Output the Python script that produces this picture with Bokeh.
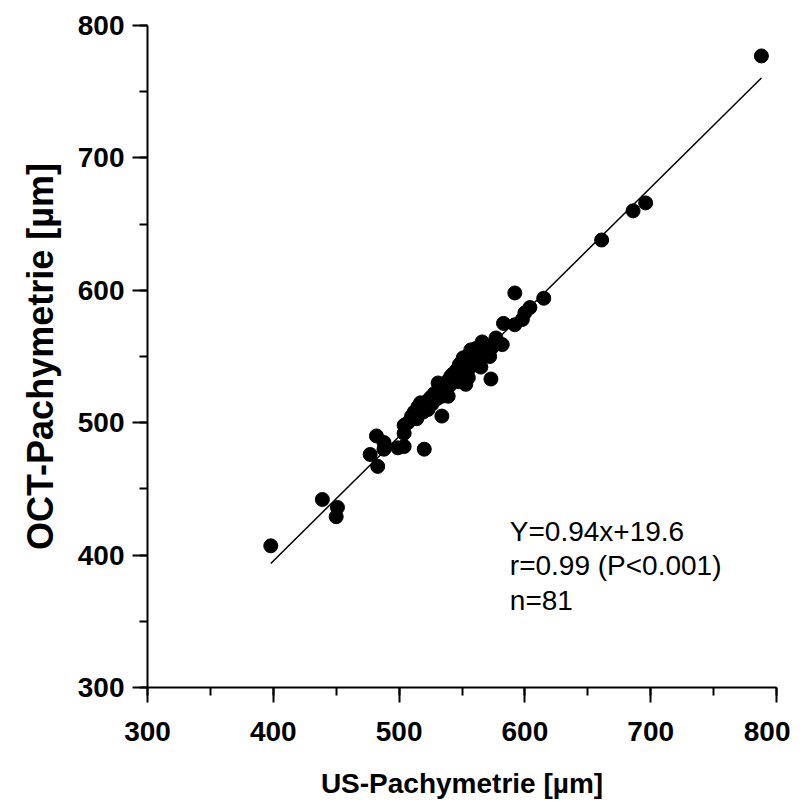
from bokeh.plotting import figure
from bokeh.models import Range1d, SingleIntervalTicker, Label
from bokeh.embed import file_html
from bokeh.resources import INLINE

# US-Pachymetrie (x) and OCT-Pachymetrie (y), in µm
us_pachy = [398, 439, 451, 450, 477, 482, 483, 488, 488, 499,
            504, 504, 520, 504, 509, 534, 515, 519, 525, 539,
            531, 541, 553, 550, 565, 555, 573, 557, 566, 577,
            582, 574, 572, 583, 592, 598, 600, 604, 615, 592,
            661, 686, 696, 788,
            507, 510, 512, 514, 517, 520, 522, 523, 526, 528,
            530, 532, 534, 535, 537, 538, 540, 542, 543, 545,
            546, 547, 548, 550, 551, 552, 554, 555, 556, 558,
            560, 561, 562, 563, 565, 567, 569]
oct_pachy = [407, 442, 436, 429, 476, 490, 467, 485, 480, 481,
             482, 492, 480, 498, 502, 505, 512, 508, 519, 520,
             530, 535, 529, 546, 542, 540, 533, 555, 561, 564,
             559, 557, 550, 575, 574, 578, 583, 587, 594, 598,
             638, 660, 666, 777,
             500, 505, 508, 503, 515, 512, 516, 510, 514, 522,
             518, 525, 520, 528, 524, 531, 528, 530, 537, 534,
             540, 531, 544, 538, 549, 543, 550, 534, 547, 552,
             548, 556, 544, 553, 557, 552, 558]

fit_slope = 0.94
fit_intercept = 19.6
stats_lines = ["Y=0.94x+19.6", "r=0.99 (P<0.001)", "n=81"]

FONT = "Liberation Sans"

p = figure(width=790, height=801, output_backend="svg", toolbar_location=None,
           x_range=Range1d(300, 800), y_range=Range1d(300, 800),
           min_border_left=147, min_border_right=14, min_border_top=25,
           min_border_bottom=113)
p.outline_line_color = None
p.xgrid.visible = False
p.ygrid.visible = False
p.background_fill_color = "white"
p.border_fill_color = "white"

# regression line
x0, x1 = min(us_pachy), max(us_pachy)
p.line([x0, x1], [fit_slope * x0 + fit_intercept, fit_slope * x1 + fit_intercept],
       line_color="black", line_width=1.5)

p.scatter(us_pachy, oct_pachy, size=14, fill_color="black", line_color="black")

for ax in (p.xaxis[0], p.yaxis[0]):
    ax.ticker = SingleIntervalTicker(interval=100, num_minor_ticks=2)
    ax.axis_line_width = 2
    ax.major_tick_line_width = 2
    ax.minor_tick_line_width = 2
    ax.major_tick_out = 15
    ax.major_tick_in = 0
    ax.minor_tick_out = 8
    ax.minor_tick_in = 0
    ax.major_label_text_font = FONT
    ax.major_label_text_font_style = "bold"
    ax.major_label_text_font_size = "28px"
    ax.major_label_text_color = "black"
    ax.axis_label_text_font = FONT
    ax.axis_label_text_font_style = "bold"
    ax.axis_label_text_color = "black"

p.xaxis[0].axis_label = "US-Pachymetrie [µm]"
p.yaxis[0].axis_label = "OCT-Pachymetrie [µm]"
p.xaxis[0].axis_label_text_font_size = "28px"
p.yaxis[0].axis_label_text_font_size = "36px"
p.xaxis[0].major_label_standoff = 19
p.xaxis[0].axis_label_standoff = 24
p.yaxis[0].major_label_standoff = 8
p.yaxis[0].axis_label_standoff = 14

label_ys = [418, 392, 366]
for txt, yy in zip(stats_lines, label_ys):
    p.add_layout(Label(x=588, y=yy, text=txt, text_font=FONT,
                       text_font_size="28px", text_baseline="middle",
                       text_color="black"))

open("out.html", "w").write(file_html(p, INLINE))
